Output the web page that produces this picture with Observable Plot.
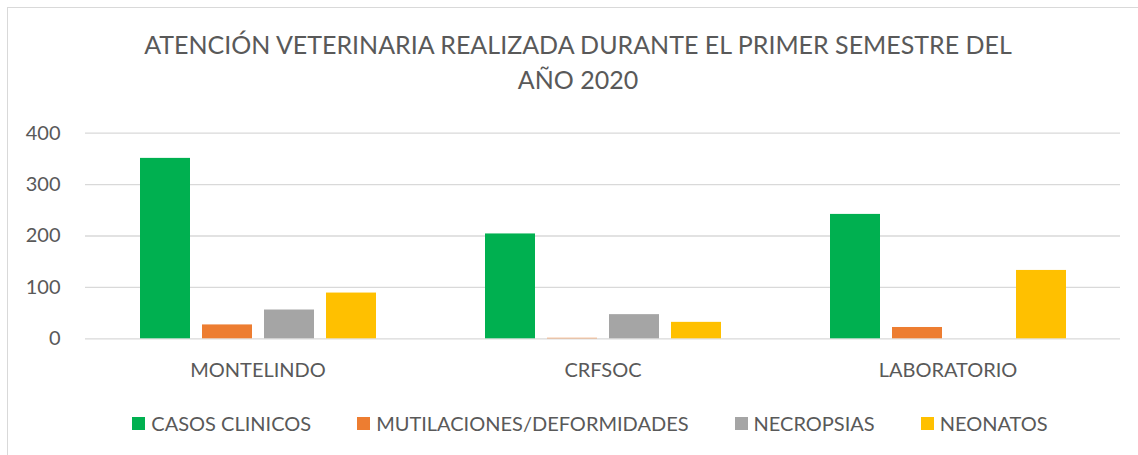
<!DOCTYPE html>
<html>
<head>
<meta charset="utf-8">
<script src="https://cdn.jsdelivr.net/npm/d3@7"></script>
<script src="https://cdn.jsdelivr.net/npm/@observablehq/plot@0.6"></script>
<style>
  html, body { margin: 0; padding: 0; background: #fff; overflow: hidden; }
  body { width: 1138px; height: 455px; position: relative; font-family: Lato, "Open Sans", sans-serif; color: #595959; }
  #frame { position: absolute; left: 7px; top: 7px; width: 1150px; height: 470px; border: 1.5px solid #d9d9d9; box-sizing: border-box; }
  #title { position: absolute; left: 0; width: 1156px; top: 27px; text-align: center; font-size: 25px; line-height: 35px; color: #595959; }
  #chart { position: absolute; left: 0; top: 0; }
  #legend { position: absolute; left: 0; width: 1180px; top: 411px; display: flex; justify-content: center; gap: 46px; font-size: 20px; color: #595959; }
  #legend .item { display: flex; align-items: center; gap: 6px; }
  #legend .sw { width: 13px; height: 13px; display: inline-block; }
</style>
</head>
<body>
<div id="frame"></div>
<div id="chart"></div>
<div id="title">ATENCIÓN VETERINARIA REALIZADA DURANTE EL PRIMER SEMESTRE DEL<br>AÑO 2020</div>
<div id="legend"></div>
<script>
const categories = ["MONTELINDO", "CRFSOC", "LABORATORIO"];
const seriesNames = ["CASOS CLINICOS", "MUTILACIONES/DEFORMIDADES", "NECROPSIAS", "NEONATOS"];
const colors = ["#00B050", "#ED7D31", "#A5A5A5", "#FFC000"];
const casosClinicos = [351, 204, 242];
const mutilaciones = [27, 1, 22];
const necropsias = [56, 47, 0];
const neonatos = [89, 32, 133];
const yTicks = [0, 100, 200, 300, 400];

const seriesValues = [casosClinicos, mutilaciones, necropsias, neonatos];
const data = [];
categories.forEach((c, i) => {
  seriesNames.forEach((s, j) => {
    data.push({category: c, series: s, value: seriesValues[j][i]});
  });
});

const chart = Plot.plot({
  width: 1138,
  height: 455,
  marginLeft: 85,
  marginRight: 18,
  marginTop: 132.7,
  marginBottom: 116.7,
  style: { fontFamily: "Lato, 'Open Sans', sans-serif", color: "#595959", background: "transparent" },
  fx: { domain: categories, paddingInner: 0, paddingOuter: 0, label: null },
  x: { domain: seriesNames, paddingInner: 0.2, paddingOuter: 0.86, axis: null },
  y: { domain: [0, 400], label: null },
  color: { domain: seriesNames, range: colors },
  marks: [
    Plot.gridY(yTicks, { stroke: "#d9d9d9", strokeOpacity: 1, strokeWidth: 1.3 }),
    Plot.barY(data, { fx: "category", x: "series", y: "value", fill: "series" }),
    Plot.axisY(yTicks, { tickSize: 0, tickPadding: 25, fontSize: 20, fill: "#595959", label: null }),
    Plot.axisFx({ anchor: "bottom", tickSize: 0, tickPadding: 24, fontSize: 20, fill: "#595959", label: null })
  ]
});
document.getElementById("chart").appendChild(chart);

const legend = document.getElementById("legend");
seriesNames.forEach((s, i) => {
  const item = document.createElement("div");
  item.className = "item";
  const sw = document.createElement("span");
  sw.className = "sw";
  sw.style.background = colors[i];
  const t = document.createElement("span");
  t.textContent = s;
  item.appendChild(sw);
  item.appendChild(t);
  legend.appendChild(item);
});
</script>
</body>
</html>
